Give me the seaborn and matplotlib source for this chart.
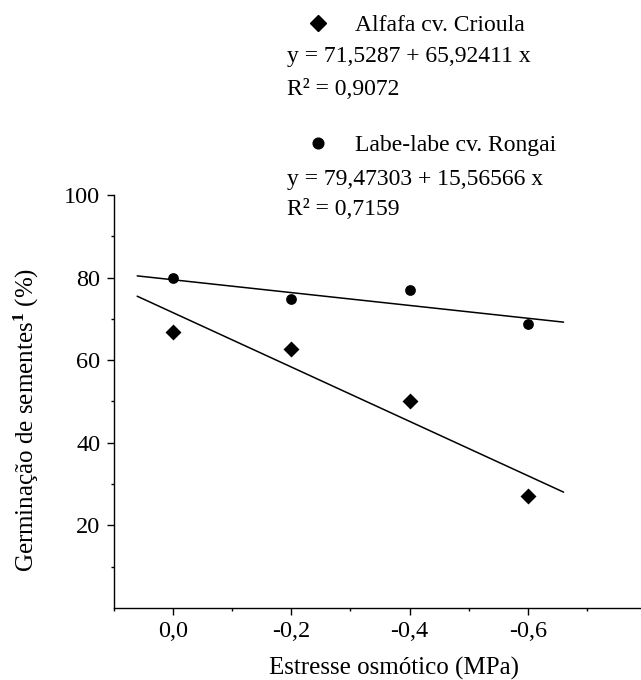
import numpy as np
import pandas as pd
import matplotlib
matplotlib.use("Agg")
import matplotlib.pyplot as plt
import seaborn as sns
from matplotlib.ticker import FixedLocator
from matplotlib.lines import Line2D

# ---- data ----
stress = [0.0, -0.2, -0.4, -0.6]
alfafa = [66.8, 62.7, 50.1, 27.0]
labe = [80.0, 74.7, 77.1, 68.7]
series_names = ["Alfafa cv. Crioula", "Labe-labe cv. Rongai"]
intercepts = [71.5287, 79.47303]
slopes = [65.92411, 15.56566]
eq_labels = ["y = 71,5287 + 65,92411 x", "y = 79,47303 + 15,56566 x"]
r2_labels = ["0,9072", "0,7159"]
fit_range = [0.06, -0.66]
xtick_vals = [0.0, -0.2, -0.4, -0.6]
xtick_labels = ["0,0", "-0,2", "-0,4", "-0,6"]
xminor_vals = [0.1, -0.1, -0.3, -0.5, -0.7]
ytick_vals = [20, 40, 60, 80, 100]
ytick_labels = ["20", "40", "60", "80", "100"]
yminor_vals = [10, 30, 50, 70, 90]

# ---- style ----
sns.set_style("ticks", rc={"axes.edgecolor": "black", "xtick.color": "black",
                           "ytick.color": "black", "text.color": "black",
                           "axes.labelcolor": "black"})
plt.rcParams["font.family"] = ["Liberation Serif", "DejaVu Serif"]
plt.rcParams["mathtext.fontset"] = "custom"
plt.rcParams["mathtext.rm"] = "Liberation Serif"
plt.rcParams["mathtext.it"] = "Liberation Serif:italic"
plt.rcParams["mathtext.bf"] = "Liberation Serif:bold"
FS_ANN = 17
FS_TICK = 17.5
FS_LAB = 18

W, H = 641, 680
fig = plt.figure(figsize=(W / 100, H / 100), dpi=100)


def box(x0, y0, x1, y1):
    return [x0 / W, 1 - y1 / H, (x1 - x0) / W, (y1 - y0) / H]


ax = fig.add_axes(box(113.5, 195, 646.5, 607.8))

markers = ["D", "o"]
sizes = [66, 60]
for name, vals, m, s, b0, b1 in zip(series_names, [alfafa, labe], markers, sizes,
                                    intercepts, slopes):
    df = pd.DataFrame({"stress": stress, "germ": vals})
    sns.scatterplot(data=df, x="stress", y="germ", marker=m, s=s, color="black",
                    edgecolor="black", linewidth=0, ax=ax, legend=False, zorder=3)
    xs = np.array(fit_range)
    sns.lineplot(x=xs, y=b0 + b1 * xs, color="black", linewidth=1.1, ax=ax,
                 sort=False, zorder=2)

ax.set_xlim(0.1, -0.8)
ax.set_ylim(0, 100)
ax.set_xticks(xtick_vals, xtick_labels)
ax.set_yticks(ytick_vals, ytick_labels)
ax.xaxis.set_minor_locator(FixedLocator(xminor_vals))
ax.yaxis.set_minor_locator(FixedLocator(yminor_vals))
ax.tick_params(which="major", direction="out", length=5, width=1.0,
               labelsize=FS_TICK, pad=4.5)
ax.tick_params(which="minor", direction="out", length=2.5, width=1.0)
sns.despine(ax=ax)
for sp in ["left", "bottom"]:
    ax.spines[sp].set_linewidth(1.0)

ax.set_xlabel("Estresse osmótico (MPa)", fontsize=FS_LAB)
ax.set_ylabel(r"Germinação de sementes$^{\mathbf{1}}$ (%)", fontsize=FS_LAB)
ax.xaxis.set_label_coords(0.5265, -0.1625)
ax.xaxis.label.set_va("baseline")
ax.yaxis.set_label_coords(-0.1505, 0.455)
ax.yaxis.label.set_va("baseline")

# ---- legend-like annotations ----
leg_centers = [25, 145]
eq_baselines = [62.3, 185]
r2_baselines = [95, 215]
legs = []
for name, m, ms, yc in zip(series_names, markers, [8.1, 7.7], leg_centers):
    h = Line2D([], [], marker=m, linestyle="", color="black", markersize=ms)
    leg = ax.legend(handles=[h], labels=[name], loc="center left",
                    bbox_to_anchor=(306.5 / W, 1 - yc / H),
                    bbox_transform=fig.transFigure, frameon=False,
                    borderpad=0, borderaxespad=0, handlelength=1.0,
                    handletextpad=1.05, fontsize=FS_ANN)
    legs.append(leg)
ax.add_artist(legs[0])

for eq, r2, yb1, yb2 in zip(eq_labels, r2_labels, eq_baselines, r2_baselines):
    fig.text(286.7 / W, 1 - yb1 / H, eq, fontsize=FS_ANN, va="baseline", ha="left")
    fig.text(286.7 / W, 1 - yb2 / H, "R\u00b2 = " + r2,
             fontsize=FS_ANN, va="baseline", ha="left")

fig.savefig("out.png", dpi=100)
